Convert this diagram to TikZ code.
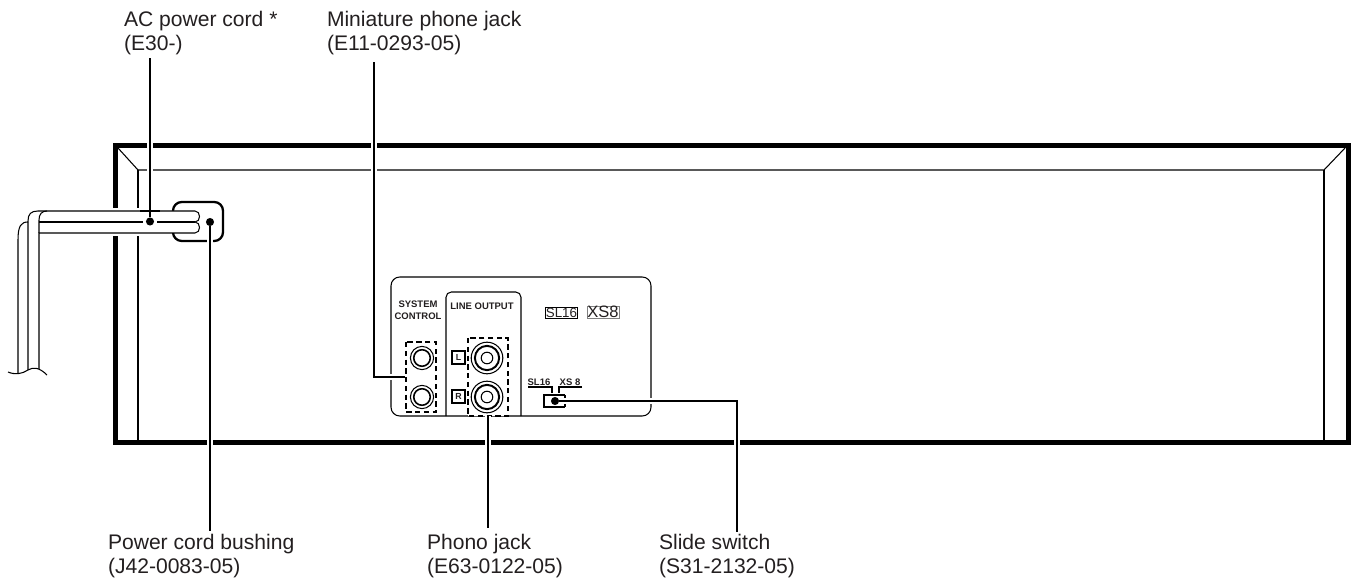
\documentclass[tikz,border=0pt]{standalone}
\usepackage{fontspec}
\setmainfont{Liberation Sans}
\definecolor{inkdark}{HTML}{231F20}

\begin{document}
\begin{tikzpicture}[x=0.02cm,y=-0.02cm]
\tikzstyle{every node}=[inner sep=0pt,outer sep=0pt,text=inkdark]
\tikzstyle{thinline}=[draw=black,line width=0.6pt]
\tikzstyle{leader}=[thinline,preaction={draw=white,line width=3.6pt}]
\tikzstyle{dotmark}=[circle,fill=black,minimum size=4.6pt]
\tikzstyle{partlabel}=[anchor=west,align=left,font=\fontsize{12}{14}\selectfont]
\tikzstyle{panellabel}=[align=center,font=\fontsize{5.4}{6.8}\selectfont\bfseries]
\tikzstyle{dashbox}=[draw=black,line width=1.2pt,dash pattern=on 3pt off 2pt,fill=white]
\tikzstyle{badge}=[draw=black,line width=0.6pt,minimum size=7.4pt,font=\fontsize{5}{6}\selectfont\bfseries]

\useasboundingbox (0,0) rectangle (1354,580);

\draw[line width=2.9pt,miter limit=10] (115.5,145.5) rectangle (1348.5,442.5);
\draw[thinline] (118,148) -- (138,170) -- (1324,170) -- (1345,148);
\draw[thinline] (138,170) -- (138,440);
\draw[thinline] (1324,170) -- (1324,440);

\draw[thinline,rounded corners=5pt] (391,416) rectangle (651,277);
\draw[thinline,rounded corners=3pt] (446,416) -- (446,292) -- (521,292) -- (521,416);
\draw[dashbox] (406,342) rectangle (436,412);
\draw[dashbox] (468,338) rectangle (508,416);

\node[panellabel] (syslabel) at (418,310) {SYSTEM\\CONTROL};
\node[panellabel] (linelabel) at (482,306) {LINE OUTPUT};
\node[badge] (lbadge) at (458.5,357.5) {L};
\node[badge] (rbadge) at (458.5,396.5) {R};
\node[draw=black,line width=0.3pt,font=\fontsize{7.6}{8}\selectfont,inner xsep=0.2pt,inner ysep=0.3pt] (sllogo) at (561.5,313) {SL16};
\node[draw=gray,line width=0.3pt,font=\fontsize{9.4}{10}\selectfont,inner xsep=0.2pt,inner ysep=0.2pt] (xslogo) at (603,312) {XS8};

\foreach \y in {358,397} {
  \draw[thinline] (422,\y) circle (6.6pt);
  \draw[line width=0.9pt] (422,\y) circle (4.7pt);
  \draw[thinline] (487,\y) circle (9pt);
  \draw[line width=1.1pt] (487,\y) circle (6.9pt);
  \draw[thinline] (487,\y) circle (3.3pt);
}

\node[panellabel] (sltext) at (539,382) {SL16};
\node[panellabel] (xstext) at (570,382) {XS 8};
\draw[thinline] (528,387) -- (552,387) -- (552,393);
\draw[thinline] (582,387) -- (559,387) -- (559,393);
\draw[line width=0.9pt] (565,395) -- (544,395) -- (544,407) -- (565,407);
\draw[line width=0.9pt] (565,395) -- (565,398);
\draw[line width=0.9pt] (565,407) -- (565,404);

\draw[line width=1.3pt,rounded corners=5pt] (173,210) -- (173,202) -- (223,202) -- (223,241) -- (173,241) -- (173,233);

\fill[white] (112,208) rectangle (142,236);
\draw[thinline,fill=white] (28,370) -- (28,221) .. controls (28,214) and (31,211) .. (38,211) -- (195,211)
  .. controls (201,211) and (201,222) .. (195,222)
  .. controls (201,222) and (201,233) .. (195,233) -- (39,233) -- (39,369);
\draw[thinline] (39,233) -- (39,220) .. controls (39,214) and (42,211) .. (47,211);
\draw[thinline] (39,222) -- (143,222);
\draw[thinline] (157,222) -- (195,222);
\draw[thinline] (18,374) -- (18,240) .. controls (18,226) and (21,222) .. (28,222);
\draw[thinline] (8,372) .. controls (15,375) and (22,374) .. (28,370) .. controls (33,367) and (39,367) .. (47,375);

\node[dotmark] (cordpt) at (150,221.5) {};
\node[dotmark] (bushpt) at (210,222) {};
\node[dotmark] (switchpt) at (555,401) {};
\coordinate (jackpt) at (405,377);
\coordinate (jackbend) at (374,377);
\coordinate (phonopt) at (488,416);
\coordinate (switchbend) at (737,401);

\node[partlabel] (cordlabel) at (124,33) {AC power cord *\\(E30-)};
\node[partlabel] (jacklabel) at (327,33) {Miniature phone jack\\(E11-0293-05)};
\node[partlabel] (bushlabel) at (108,556) {Power cord bushing\\(J42-0083-05)};
\node[partlabel] (phonolabel) at (427,556) {Phono jack\\(E63-0122-05)};
\node[partlabel] (switchlabel) at (659,556) {Slide switch\\(S31-2132-05)};

\draw[leader,shorten <=1.7pt] (cordlabel.south -| cordpt) -- (cordpt);
\draw[leader,shorten <=4pt] (jacklabel.south -| jackbend) -- (jackbend) -- (jackpt);
\draw[leader,shorten >=3.4pt] (phonopt) -- (phonolabel.north -| phonopt);
\draw[leader,shorten >=1.1pt] (switchpt) -- (switchbend) -- (switchlabel.north -| switchbend);
\draw[leader,shorten >=1.7pt] (bushpt) -- (bushlabel.north -| bushpt);
\draw[thinline] (140,211) -- (160,211);
\end{tikzpicture}
\end{document}
